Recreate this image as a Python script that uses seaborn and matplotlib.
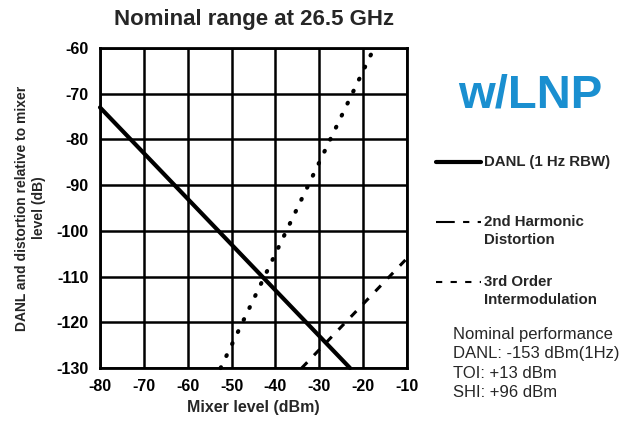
import numpy as np
import pandas as pd
import matplotlib
matplotlib.use("Agg")
import matplotlib.pyplot as plt
from matplotlib.lines import Line2D
import seaborn as sns

# ---- data ----
danl_x = [-80, -23]
danl_y = [-73, -130]
shd_x = [-34, -10]
shd_y = [-130, -106]
toi_x = [-52.5, -17.5]
toi_y = [-130, -60]
x_ticks = [-80, -70, -60, -50, -40, -30, -20, -10]
y_ticks = [-130, -120, -110, -100, -90, -80, -70, -60]

sns.set_theme(style="white")
plt.rcParams['font.family'] = ['Liberation Sans', 'DejaVu Sans']

fig = plt.figure(figsize=(6.41, 4.23), dpi=100)
ax = fig.add_axes([100/641, 1-368/423, 307/641, 320/423])

sns.lineplot(x=danl_x, y=danl_y, ax=ax, color="black", lw=3, clip_on=False)
sns.lineplot(x=shd_x, y=shd_y, ax=ax, color="black", lw=2.2, clip_on=False)
sns.lineplot(x=toi_x, y=toi_y, ax=ax, color="black", lw=3.0, clip_on=False,
             dash_capstyle="round")
lines = ax.get_lines()
lines[0].set_linestyle("-")
lines[1].set_dashes([2.6, 3.2])
lines[2].set_dashes([0.2, 3.0])
lines[2].set_dash_capstyle("round")

ax.set_xlim(-80, -10)
ax.set_ylim(-130, -60)
ax.set_xticks(x_ticks)
ax.set_yticks(y_ticks)
ax.set_xticklabels([str(v) for v in x_ticks], fontsize=11.5, fontweight="bold")
ax.set_yticklabels([str(v) for v in y_ticks], fontsize=11.5, fontweight="bold")
ax.tick_params(length=0, pad=8, colors="black")
for v in x_ticks:
    ax.axvline(v, color="black", lw=1.8, zorder=1)
for v in y_ticks:
    ax.axhline(v, color="black", lw=1.8, zorder=1)
for s in ax.spines.values():
    s.set_color("black")
    s.set_linewidth(2)
ax.set_xlabel("Mixer level (dBm)", fontsize=11.5, fontweight="bold", labelpad=4)
ax.set_ylabel("DANL and distortion relative to mixer\nlevel (dB)", fontsize=10,
              fontweight="bold", labelpad=8, linespacing=1.25)

fig.text(254/641, 1-19/423, "Nominal range at 26.5 GHz", ha="center", va="center",
         fontsize=16, fontweight="bold")
fig.text(530/641, 1-96/423, "w/LNP", ha="center", va="center", color="#1a8fd0",
         fontsize=34, fontweight="bold")

# legend
l1 = Line2D([436/641, 481/641], [1-162/423, 1-162/423], color="black", lw=3)
fig.add_artist(l1)
fig.text(484/641, 1-162/423, "DANL (1 Hz RBW)", va="center", fontsize=10.8, fontweight="bold")
l2 = Line2D([436/641, 481/641], [1-222/423, 1-222/423], color="black", lw=1.5)
l2.set_dashes([9, 4, 3, 4, 3, 4])
fig.add_artist(l2)
fig.text(484/641, 1-222/423, "2nd Harmonic", va="center", fontsize=10.8, fontweight="bold")
fig.text(484/641, 1-240/423, "Distortion", va="center", fontsize=10.8, fontweight="bold")
l3 = Line2D([436/641, 481/641], [1-282/423, 1-282/423], color="black", lw=1.5)
l3.set_dashes([3, 4])
fig.add_artist(l3)
fig.text(484/641, 1-282/423, "3rd Order", va="center", fontsize=10.8, fontweight="bold")
fig.text(484/641, 1-300/423, "Intermodulation", va="center", fontsize=10.8, fontweight="bold")

perf = ["Nominal performance", "DANL: -153 dBm(1Hz)", "TOI: +13 dBm", "SHI: +96 dBm"]
for i, t in enumerate(perf):
    fig.text(453/641, 1-(334+19.5*i)/423, t, va="center", fontsize=12)

fig.savefig("out.png", dpi=100)
